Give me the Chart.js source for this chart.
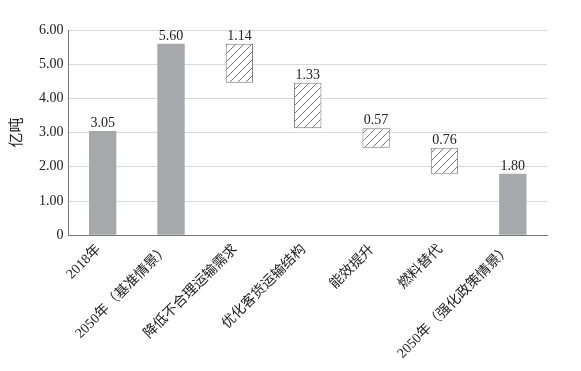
<!DOCTYPE html>
<html><head><meta charset="utf-8">
<script src="https://cdn.jsdelivr.net/npm/chart.js@4"></script>
<style>html,body{margin:0;padding:0;background:#fff}#wrap{width:581px;height:371px}</style>
</head><body><div id="wrap"><canvas id="c" width="581" height="371"></canvas></div>
<script>
const categories = ['2018年','2050年（基准情景）','降低不合理运输需求','优化客货运输结构','能效提升','燃料替代','2050年（强化政策情景）'];
const values = [3.05, 5.60, 1.14, 1.33, 0.57, 0.76, 1.80];
const isReduction = [false, false, true, true, true, true, false];
const yTicks = [0, 1, 2, 3, 4, 5, 6];

// waterfall ranges
const ranges = [];
let level = 0;
values.forEach((v, i) => {
  if (isReduction[i]) { ranges.push([level - v, level]); level = level - v; }
  else { ranges.push([0, v]); level = v; }
});

function hatch() {
  const p = document.createElement('canvas');
  p.width = 8; p.height = 8;
  const g = p.getContext('2d');
  g.fillStyle = '#fff'; g.fillRect(0,0,8,8);
  g.strokeStyle = '#555'; g.lineWidth = 0.8;
  g.beginPath();
  g.moveTo(0,8); g.lineTo(8,0);
  g.moveTo(-2,2); g.lineTo(2,-2);
  g.moveTo(6,10); g.lineTo(10,6);
  g.stroke();
  return document.getElementById('c').getContext('2d').createPattern(p, 'repeat');
}
const pat = hatch();
const FONT = "'Liberation Serif', 'Noto Sans CJK SC', serif";

const labelPlugin = {
  id: 'vals',
  afterDatasetsDraw(chart) {
    const ctx = chart.ctx;
    const meta = chart.getDatasetMeta(0);
    ctx.save();
    ctx.font = '14px ' + FONT;
    ctx.fillStyle = '#222';
    ctx.textAlign = 'center';
    ctx.textBaseline = 'bottom';
    meta.data.forEach((bar, i) => {
      const top = Math.min(bar.y, bar.base);
      ctx.fillText(values[i].toFixed(2), bar.x, top - 0.5);
    });
    ctx.restore();
  }
};

new Chart(document.getElementById('c'), {
  type: 'bar',
  data: {
    labels: categories,
    datasets: [{
      data: ranges,
      backgroundColor: isReduction.map(r => r ? pat : '#a7a8ab'),
      borderColor: isReduction.map(r => r ? '#777' : '#a7a8ab'),
      borderWidth: isReduction.map(r => r ? 1 : 0),
      borderSkipped: false,
      barPercentage: 0.4,
      categoryPercentage: 1.0
    }]
  },
  options: {
    responsive: false,
    animation: false,
    devicePixelRatio: 1,
    layout: { padding: { top: 30, right: 34, left: 4, bottom: 3 } },
    plugins: { legend: { display: false }, tooltip: { enabled: false } },
    scales: {
      x: {
        grid: { display: false, drawTicks: false },
        border: { color: '#777', width: 1 },
        ticks: { maxRotation: 45, minRotation: 45, color: '#222', padding: 6, labelOffset: -4, font: { family: FONT, size: 14 }, autoSkip: false }
      },
      y: {
        min: 0, max: 6,
        afterBuildTicks(axis) { axis.ticks = yTicks.map(v => ({ value: v })); },
        grid: { color: '#d9d9d9', drawTicks: false },
        border: { color: '#777', width: 1 },
        ticks: { color: '#222', padding: 5, font: { family: FONT, size: 14 },
          callback: v => v === 0 ? '0' : v.toFixed(2) },
        title: { display: true, text: '亿吨', color: '#222', font: { family: FONT, size: 15 }, padding: { bottom: 8 } }
      }
    }
  },
  plugins: [labelPlugin]
});
</script></body></html>
